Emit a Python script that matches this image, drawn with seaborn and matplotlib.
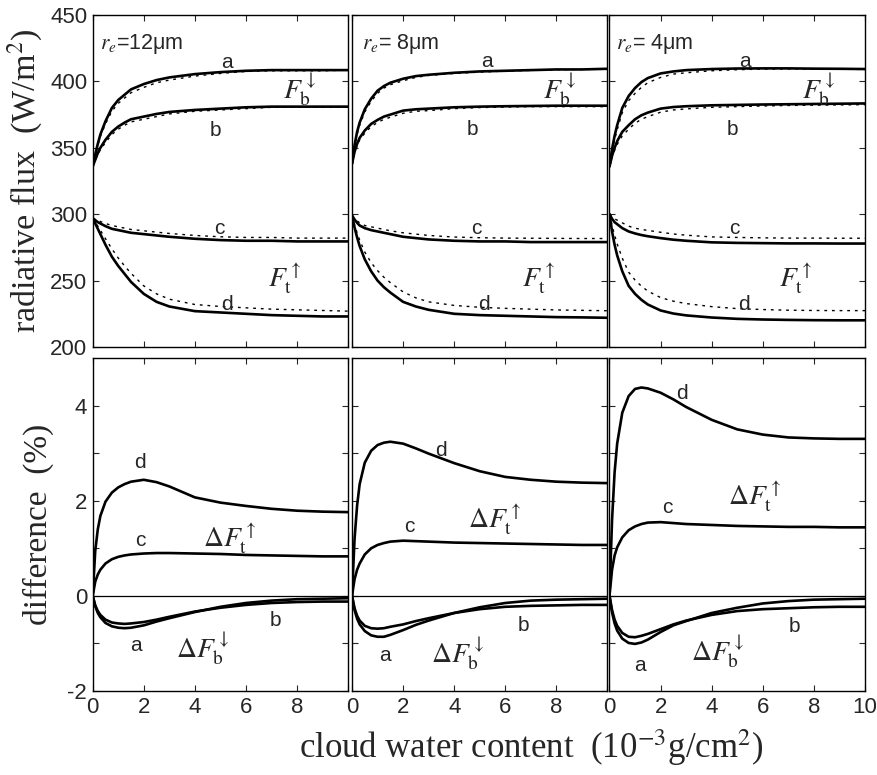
import matplotlib
matplotlib.use('Agg')
import matplotlib.pyplot as plt
import seaborn as sns

# x grid (cloud water content, 10^-3 g/cm^2)
xs = [0, 0.1, 0.2, 0.3, 0.5, 0.75, 1, 1.25, 1.5, 2, 2.5, 3, 4, 5, 6, 7, 8, 9, 10]

radii = ['12', '8', '4']

# ---- top row: radiative flux (W/m^2), solid and dashed curves ----
flux_solid = {
    '12': {
        'a': [336, 345, 353, 360, 370, 380, 386, 390, 394, 398, 401, 403, 405.5, 407, 408, 408.5, 408.5, 408.5, 408.5],
        'b': [336, 341, 346, 350, 356, 362, 366, 369, 371.5, 373.5, 375.5, 377, 378.5, 379.5, 380.5, 381, 381, 381, 381],
        'c': [297, 295.5, 294, 293, 291, 289, 288, 287, 286, 285, 284, 283, 281.5, 280.5, 280, 280, 279.5, 279.5, 279.5],
        'd': [297, 293, 289, 285, 277, 268, 261, 255, 249, 240, 234, 230.5, 227, 226, 225, 224, 223.5, 223, 223],
    },
    '8': {
        'a': [338, 352, 362, 369, 379, 387, 393, 396.5, 399, 402, 404, 405, 406.5, 407.5, 408, 408.5, 409, 409, 409.5],
        'b': [338, 347, 353, 357.5, 363, 368, 371, 373.5, 375, 378, 379, 379.5, 380.5, 381, 381.3, 381.5, 381.7, 381.7, 381.7],
        'c': [299, 296, 293.5, 291.5, 289.5, 288, 287, 286, 285, 283, 282, 281, 280, 279.5, 279.5, 279, 279, 279, 279],
        'd': [299, 290, 282.5, 276, 266, 257, 250, 245, 241, 234, 230.5, 228, 225, 224, 223.5, 223, 222.5, 222.3, 222],
    },
    '4': {
        'a': [336, 349, 359, 367, 380, 389, 395, 399.5, 402.5, 406, 407.5, 408.5, 409.3, 409.7, 409.8, 409.8, 409.6, 409.5, 409.3],
        'b': [336, 344, 350, 355, 362, 367, 371.5, 374.5, 376.5, 379.5, 380.7, 381.3, 382, 382.3, 382.6, 382.8, 383, 383.2, 383.4],
        'c': [300, 296.5, 294, 292.5, 289.5, 287, 285.5, 284.3, 283.4, 282, 280.8, 280, 278.8, 278.4, 278.2, 278, 278, 277.9, 277.9],
        'd': [300, 287, 277, 269, 257, 246, 240, 235.5, 232, 227.5, 225.2, 223.8, 222.2, 221.2, 220.7, 220.4, 220.2, 220.1, 220.1],
    },
}

flux_dashed = {
    '12': {
        'a': [336, 344, 352, 358.5, 368, 377.5, 383.5, 387.5, 391.5, 395.5, 399, 401, 404, 406, 407.5, 408, 408, 408, 408.5],
        'b': [336, 340.5, 345, 348.5, 354, 360, 364, 367, 369.5, 371.5, 373.5, 375.5, 377.5, 378.5, 379.5, 380.5, 380.5, 380.5, 380.5],
        'c': [297, 296, 295.5, 294.5, 293, 291.5, 290.5, 289.5, 288.5, 287.5, 286.5, 285.5, 284, 283, 282.5, 282.5, 282, 282, 282],
        'd': [297, 294, 291, 288, 281.5, 274, 267, 261, 255.5, 246, 240, 236, 232, 230.5, 229.5, 228.5, 228, 227.5, 227],
    },
    '8': {
        'a': [338, 350.5, 360, 367, 377, 385, 391, 395, 397.5, 400.5, 403, 404.5, 406, 407, 407.8, 408.3, 408.8, 409, 409.2],
        'b': [338, 346, 351.5, 356, 361, 366, 369, 371.5, 373, 376, 377.5, 378, 379.5, 380.3, 380.7, 381, 381, 381, 381],
        'c': [299, 297, 295, 293.5, 291.5, 290.5, 289.5, 288.5, 287.5, 286, 285, 284, 282.8, 282.3, 282, 281.9, 281.8, 281.7, 281.7],
        'd': [299, 292, 286, 280.5, 271.5, 263.5, 257.5, 252.5, 248.5, 241.5, 237, 234, 231.3, 229.9, 229.1, 228.5, 227.9, 227.6, 227.3],
    },
    '4': {
        'a': [336, 347, 356, 363.5, 376.5, 385.5, 391, 395.5, 399, 403, 405.5, 406.5, 408, 408.8, 409.3, 409.4, 409.3, 409.2, 409],
        'b': [336, 343, 348, 352.5, 359, 364, 368.5, 371.5, 373.5, 376.8, 378.5, 379.3, 380.5, 381, 381.5, 381.9, 382.1, 382.3, 382.5],
        'c': [300, 298, 296.5, 295.5, 293.5, 291, 289.5, 288.5, 287.8, 286.4, 285.1, 284.2, 282.9, 282.5, 282.2, 282, 282, 281.9, 281.9],
        'd': [300, 291.6, 284.2, 277.6, 266.9, 256.3, 250.4, 245.8, 242.1, 237.2, 234.5, 232.7, 230.4, 228.9, 228.2, 227.7, 227.5, 227.4, 227.4],
    },
}

# ---- bottom row: relative difference (%) ----
diff = {
    '12': {
        'a': [0, -0.22, -0.36, -0.45, -0.57, -0.64, -0.67, -0.68, -0.67, -0.62, -0.54, -0.47, -0.34, -0.23, -0.15, -0.1, -0.07, -0.06, -0.05],
        'b': [0, -0.2, -0.32, -0.4, -0.5, -0.56, -0.58, -0.59, -0.58, -0.55, -0.5, -0.44, -0.33, -0.25, -0.19, -0.15, -0.13, -0.12, -0.12],
        'c': [0, 0.3, 0.45, 0.55, 0.68, 0.77, 0.82, 0.85, 0.87, 0.89, 0.9, 0.9, 0.89, 0.88, 0.86, 0.85, 0.84, 0.83, 0.83],
        'd': [0, 0.95, 1.4, 1.68, 1.98, 2.17, 2.28, 2.35, 2.4, 2.44, 2.39, 2.3, 2.07, 1.96, 1.89, 1.83, 1.79, 1.77, 1.76],
    },
    '8': {
        'a': [0, -0.3, -0.48, -0.6, -0.74, -0.83, -0.86, -0.86, -0.82, -0.72, -0.61, -0.52, -0.36, -0.24, -0.15, -0.1, -0.08, -0.07, -0.06],
        'b': [0, -0.26, -0.42, -0.52, -0.63, -0.68, -0.69, -0.68, -0.65, -0.6, -0.53, -0.47, -0.36, -0.28, -0.23, -0.21, -0.2, -0.19, -0.19],
        'c': [0, 0.35, 0.55, 0.68, 0.87, 1.0, 1.07, 1.11, 1.14, 1.16, 1.15, 1.14, 1.12, 1.11, 1.1, 1.09, 1.08, 1.07, 1.07],
        'd': [0, 1.2, 1.9, 2.35, 2.8, 3.05, 3.17, 3.22, 3.24, 3.2, 3.1, 2.99, 2.79, 2.62, 2.5, 2.44, 2.4, 2.38, 2.37],
    },
    '4': {
        'a': [0, -0.35, -0.58, -0.73, -0.9, -0.99, -1.01, -0.98, -0.92, -0.76, -0.62, -0.53, -0.36, -0.25, -0.16, -0.11, -0.08, -0.07, -0.06],
        'b': [0, -0.3, -0.5, -0.63, -0.78, -0.86, -0.87, -0.84, -0.8, -0.7, -0.6, -0.52, -0.4, -0.32, -0.28, -0.26, -0.24, -0.23, -0.23],
        'c': [0, 0.55, 0.85, 1.02, 1.23, 1.38, 1.46, 1.51, 1.54, 1.55, 1.53, 1.51, 1.49, 1.47, 1.46, 1.45, 1.45, 1.44, 1.44],
        'd': [0, 1.6, 2.6, 3.2, 3.85, 4.2, 4.35, 4.38, 4.36, 4.27, 4.13, 3.97, 3.7, 3.5, 3.39, 3.33, 3.31, 3.3, 3.3],
    },
}

# label positions (data coords) for each panel
top_labels = {
    '12': {'a': (5.25, 414), 'b': (4.8, 363), 'c': (4.95, 289), 'd': (5.25, 232),
           'Fb': (8.1, 394), 'Ft': (7.5, 252), 're': (0.3, 428)},
    '8': {'a': (5.3, 415), 'b': (4.7, 364), 'c': (4.85, 289), 'd': (5.15, 232),
          'Fb': (8.15, 394), 'Ft': (7.3, 252), 're': (0.4, 428)},
    '4': {'a': (5.3, 415), 'b': (4.8, 364), 'c': (4.9, 289), 'd': (5.25, 232),
          'Fb': (8.2, 394), 'Ft': (7.3, 252), 're': (0.25, 428)},
}
bot_labels = {
    '12': {'a': (1.7, -1.05), 'b': (7.15, -0.52), 'c': (1.85, 1.17), 'd': (1.85, 2.8),
           'dFb': (4.3, -1.1), 'dFt': (5.35, 1.22)},
    '8': {'a': (1.3, -1.25), 'b': (6.7, -0.62), 'c': (2.25, 1.46), 'd': (3.5, 3.05),
          'dFb': (4.15, -1.2), 'dFt': (5.6, 1.6)},
    '4': {'a': (1.2, -1.47), 'b': (7.25, -0.64), 'c': (2.25, 1.86), 'd': (2.85, 4.25),
          'dFb': (4.25, -1.16), 'dFt': (5.7, 2.1)},
}

sns.set_style('ticks')
plt.rcParams['font.family'] = ['Liberation Sans', 'DejaVu Sans']
plt.rcParams['mathtext.fontset'] = 'stix'
serif = ['Liberation Serif', 'DejaVu Serif']

fig = plt.figure(figsize=(8.78, 7.75), dpi=100)
W, H = 878, 775
lefts = [92.7, 352, 609.5]
pw = 255.5

for i, r in enumerate(radii):
    ax_t = fig.add_axes([lefts[i] / W, 1 - 347 / H, pw / W, (347 - 15) / H])
    ax_b = fig.add_axes([lefts[i] / W, 1 - 691 / H, pw / W, (691 - 358) / H])

    for k in ['a', 'b', 'c', 'd']:
        sns.lineplot(x=xs, y=flux_dashed[r][k], ax=ax_t, color='black', lw=1.0,
                     linestyle=(0, (2, 3.5)))
        sns.lineplot(x=xs, y=flux_solid[r][k], ax=ax_t, color='black', lw=1.9)
        sns.lineplot(x=xs, y=diff[r][k], ax=ax_b, color='black', lw=1.9)
    ax_b.axhline(0, color='black', lw=0.9)

    ax_t.set_xlim(0, 10)
    ax_t.set_ylim(200, 450)
    ax_b.set_xlim(0, 10)
    ax_b.set_ylim(-2, 5)

    ax_t.set_yticks([200, 250, 300, 350, 400, 450])
    ax_b.set_yticks([-2, -1, 0, 1, 2, 3, 4])
    ax_t.set_xticks([0, 2, 4, 6, 8, 10])
    ax_b.set_xticks([0, 2, 4, 6, 8, 10])
    ax_t.set_xticklabels([])
    if i == 2:
        ax_b.set_xticklabels(['0', '2', '4', '6', '8', '10'])
    else:
        ax_b.set_xticklabels(['0', '2', '4', '6', '8', ''])
    if i == 0:
        ax_t.set_yticklabels(['200', '250', '300', '350', '400', '450'])
        ax_b.set_yticklabels(['-2', '', '0', '', '2', '', '4'])
    else:
        ax_t.set_yticklabels([])
        ax_b.set_yticklabels([])

    for ax in (ax_t, ax_b):
        ax.tick_params(direction='in', top=True, right=True, length=4, width=0.8,
                       labelsize=16, pad=4)
        for s in ax.spines.values():
            s.set_linewidth(1.0)
            s.set_color('black')

    # annotations, top
    tl = top_labels[r]
    for k in ['a', 'b', 'c', 'd']:
        ax_t.text(*tl[k], k, fontsize=15, ha='center', va='center')
    ax_t.text(*tl['Fb'], r'$F_{\rm b}^{\downarrow}$', fontsize=20, ha='center', va='center')
    ax_t.text(*tl['Ft'], r'$F_{\rm t}^{\uparrow}$', fontsize=20, ha='center', va='center')
    sep = '=' if r == '12' else '= '
    ax_t.text(*tl['re'], r'$r_e$' + sep + r + 'μm', fontsize=15.5, ha='left', va='center')

    # annotations, bottom
    bl = bot_labels[r]
    for k in ['a', 'b', 'c', 'd']:
        ax_b.text(*bl[k], k, fontsize=15, ha='center', va='center')
    ax_b.text(*bl['dFb'], r'$\Delta F_{\rm b}^{\downarrow}$', fontsize=20, ha='center', va='center')
    ax_b.text(*bl['dFt'], r'$\Delta F_{\rm t}^{\uparrow}$', fontsize=20, ha='center', va='center')

    if i == 0:
        ax_t.set_ylabel(r'radiative flux  (W/m$^2$)', fontsize=24.5, family=serif, labelpad=4)
        ax_b.set_ylabel('difference  (%)', fontsize=24, family=serif, labelpad=10)

fig.text(531 / W, 1 - 748 / H, r'cloud water content  (10$^{-3}$g/cm$^2$)',
         fontsize=25, family=serif, ha='center', va='center')

fig.savefig('out.png', dpi=100)
